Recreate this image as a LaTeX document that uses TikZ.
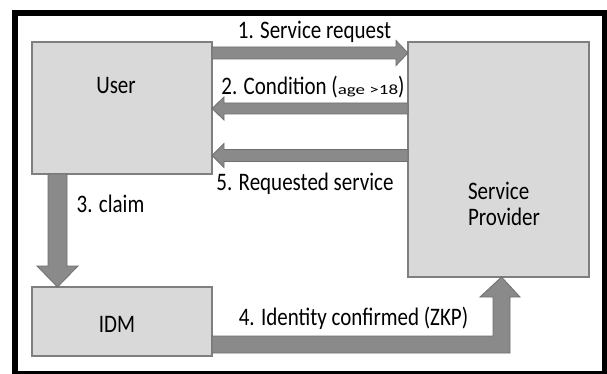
\documentclass[tikz,border=0pt]{standalone}
\usepackage{fontspec}
\setmainfont{Carlito}
\usepackage{graphicx}
\usetikzlibrary{calc}
\definecolor{boxfill}{HTML}{D9D9D9}
\definecolor{boxline}{HTML}{7F7F7F}
\definecolor{arrfill}{HTML}{8A8A8A}
\definecolor{arrline}{HTML}{6E6E6E}
\newcommand{\vst}[1]{\scalebox{1}[1.2]{#1}}
\begin{document}
\begin{tikzpicture}[x=1pt,y=-1pt,
  boxnode/.style={draw=boxline, fill=boxfill, line width=2pt, inner sep=0pt, outer sep=0pt},
  blockarrow/.style={fill=arrfill, draw=arrline, line width=0.8pt, line join=miter},
  lbl/.style={inner sep=0pt, outer sep=0pt, font=\fontsize{21}{26}\selectfont, text=black}]
\useasboundingbox (0,0) rectangle (607,374);
\clip (0,0) rectangle (607,374);
\fill[white] (0,0) rectangle (607,374);
% frame
\draw[line width=6pt] (15,13) rectangle (605,374);
% boxes
\node[boxnode, minimum width=180pt, minimum height=132pt] (user) at (122,108) {};
\node[boxnode, minimum width=181pt, minimum height=235pt] (sp) at (498.5,159.5) {};
\node[boxnode, minimum width=180pt, minimum height=69pt] (idm) at (122,321.5) {};
% arrow 1: user -> sp
\filldraw[blockarrow] (user.east |- 0,47) -- ($(sp.west |- 0,47)+(-12,0)$) -- ($(sp.west |- 0,40.5)+(-12,0)$) -- (sp.west |- 0,53) -- ($(sp.west |- 0,65.5)+(-12,0)$) -- ($(sp.west |- 0,59)+(-12,0)$) -- (user.east |- 0,59) -- cycle;
% arrow 2: sp -> user
\filldraw[blockarrow] (sp.west |- 0,103) -- ($(user.east |- 0,103)+(12,0)$) -- ($(user.east |- 0,97)+(12,0)$) -- (user.east |- 0,108.5) -- ($(user.east |- 0,120)+(12,0)$) -- ($(user.east |- 0,114)+(12,0)$) -- (sp.west |- 0,114) -- cycle;
% arrow 5: sp -> user
\filldraw[blockarrow] (sp.west |- 0,149.5) -- ($(user.east |- 0,149.5)+(12,0)$) -- ($(user.east |- 0,143.5)+(12,0)$) -- (user.east |- 0,155.5) -- ($(user.east |- 0,167.5)+(12,0)$) -- ($(user.east |- 0,161.5)+(12,0)$) -- (sp.west |- 0,161.5) -- cycle;
% arrow 3: user -> idm
\filldraw[blockarrow] (user.south -| 48,0) -- ($(idm.north -| 48,0)+(0,-21)$) -- ($(idm.north -| 37,0)+(0,-21)$) -- (idm.north -| 57.5,0) -- ($(idm.north -| 78,0)+(0,-21)$) -- ($(idm.north -| 67,0)+(0,-21)$) -- (user.south -| 67,0) -- cycle;
% arrow 4: idm -> sp (elbow)
\filldraw[blockarrow] (idm.east |- 0,336) -- (493,336) -- ($(sp.south -| 493,0)+(0,20)$) -- ($(sp.south -| 480,0)+(0,20)$) -- (sp.south -| 501.5,0) -- ($(sp.south -| 520,0)+(0,20)$) -- ($(sp.south -| 510,0)+(0,20)$) -- (510,353) -- (idm.east |- 0,353) -- cycle;
% texts
\node[lbl, anchor=base] (tuser) at (116,94) {\vst{User}};
\node[lbl, anchor=base] (tidm) at (117,332) {\vst{IDM}};
\node[lbl, anchor=base west] (tsp1) at (468,199) {\vst{Service}};
\node[lbl, anchor=base west] (tsp2) at (468,225) {\vst{Provider}};
\node[lbl, anchor=base] (l1) at (314.5,39) {\vst{1. Service request}};
\node[lbl, anchor=base] (l2) at (313,95) {\vst{2. Condition (\scalebox{1}[0.62]{\fontsize{19}{20}\selectfont age >18})}};
\node[lbl, anchor=base] (l5) at (305,190) {\vst{5. Requested service}};
\node[lbl, anchor=base] (l3) at (110.5,212) {\vst{3. claim}};
\node[lbl, anchor=base] (l4) at (353.5,325) {\vst{4. Identity confirmed (ZKP)}};
\end{tikzpicture}
\end{document}
